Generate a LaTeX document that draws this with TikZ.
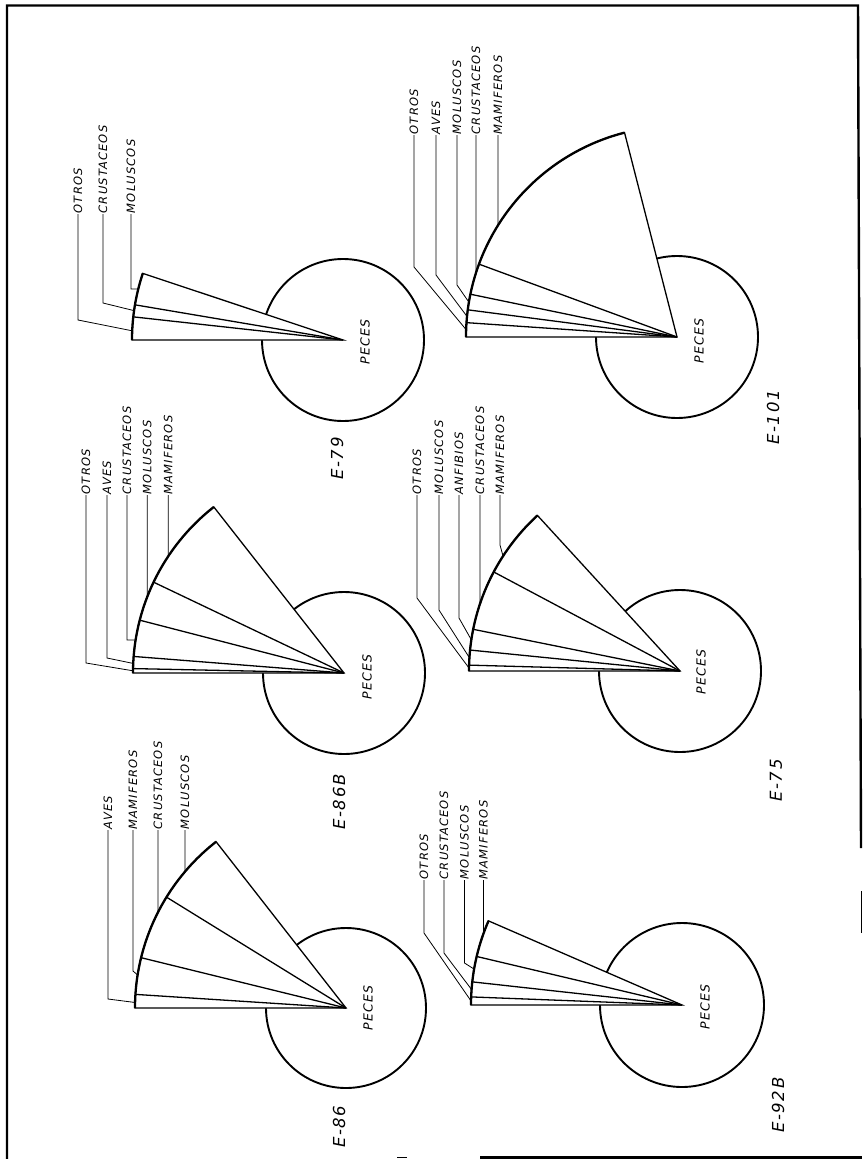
\documentclass[tikz,border=0pt]{standalone}
\usepackage{fontspec}
\newfontfamily\hand{DejaVu Sans}[LetterSpace=10]
\tikzset{
  frame/.style={line width=2.4pt},
  disc/.style={line width=1.9pt},
  spoke/.style={line width=1.3pt},
  rim/.style={line width=2.3pt},
  leader/.style={line width=0.8pt},
  lbl/.style={rotate=90,anchor=west,inner sep=0.6pt,font=\hand\itshape\fontsize{11.5}{12}\selectfont},
  fish/.style={rotate=90,inner sep=0pt,font=\hand\itshape\fontsize{12.5}{13}\selectfont},
  tag/.style={rotate=90,anchor=west,inner sep=0pt,font=\hand\itshape\fontsize{16.5}{17}\selectfont}
}

\begin{document}
\begin{tikzpicture}[x=1pt,y=-1pt]
                \fill[white] (0,0) rectangle (862,1159);
                \useasboundingbox (0,0) rectangle (862,1159);
                % marco
                \draw[frame] (7,1159)--(7,5.5)--(858,5.5)--(861,848);
                \draw[line width=1pt] (861,891)--(861,933);
                \draw[frame] (480,1157.5)--(862,1157.5);
                \draw[line width=1.5pt] (397,1157.5)--(407,1157.5);
                % E-79
                \coordinate (c79) at (343,340);
                \draw[disc] (c79) circle (81);
                \filldraw[spoke,fill=white] (c79)--++(180:211) arc[start angle=180,end angle=198.4,radius=211]--cycle;
                \draw[rim] (c79) ++(180:211) arc[start angle=180,end angle=198.4,radius=211];
                \foreach \a in {6.3,9.6}{
                    \draw[spoke] (c79)--++(180+\a:211);
                }
                \node[fish] (p79) at (365,342) {PECES};
                \node[tag] (e79) at (337,480) {E-79};
                \foreach \x/\k/\a/\t in {78/320/2.5/OTROS,103/303/8/CRUSTACEOS,131/289/14/MOLUSCOS}{
                    \node[lbl] (l79-\t) at (\x,214) {\t};
                    \path (c79) ++(180+\a:211) coordinate (t79-\t);
                    \draw[leader] (l79-\t.west)--(\x,\k)--(t79-\t);
                }
                % E-86B
                \coordinate (c86b) at (344,673);
                \draw[disc] (c86b) circle (81);
                \filldraw[spoke,fill=white] (c86b)--++(180:211) arc[start angle=180,end angle=231.9,radius=211]--cycle;
                \draw[rim] (c86b) ++(180:211) arc[start angle=180,end angle=231.9,radius=211];
                \foreach \a in {1.2,4.5,14.5,25.5}{
                    \draw[spoke] (c86b)--++(180+\a:211);
                }
                \node[fish] (p86b) at (367,677) {PECES};
                \node[tag] (e86b) at (339,830) {E-86B};
                \foreach \x/\k/\a/\t in {86/663/0.6/OTROS,107/658/2.6/AVES,127/640/9/CRUSTACEOS,147.3/596.7/21.2/MOLUSCOS,168.3/556.2/33.6/MAMIFEROS}{
                    \node[lbl] (l86b-\t) at (\x,495) {\t};
                    \path (c86b) ++(180+\a:211) coordinate (t86b-\t);
                    \draw[leader] (l86b-\t.west)--(\x,\k)--(t86b-\t);
                }
                % E-86
                \coordinate (c86) at (346,1008);
                \draw[disc] (c86) circle (80);
                \filldraw[spoke,fill=white] (c86)--++(180:211) arc[start angle=180,end angle=232,radius=211]--cycle;
                \draw[rim] (c86) ++(180:211) arc[start angle=180,end angle=232,radius=211];
                \foreach \a in {3.7,13.8,31.7}{
                    \draw[spoke] (c86)--++(180+\a:211);
                }
                \node[fish] (p86) at (368,1008) {PECES};
                \node[tag] (e86) at (339,1148) {E-86};
                \foreach \x/\k/\a/\t in {108/999/1.5/AVES,133/971/9/MAMIFEROS,158/912.2/27/CRUSTACEOS,185/871.5/40.3/MOLUSCOS}{
                    \node[lbl] (l86-\t) at (\x,830) {\t};
                    \path (c86) ++(180+\a:211) coordinate (t86-\t);
                    \draw[leader] (l86-\t.west)--(\x,\k)--(t86-\t);
                }
                % E-101
                \coordinate (c101) at (677,337);
                \draw[disc] (c101) circle (81);
                \filldraw[spoke,fill=white] (c101)--++(180:211) arc[start angle=180,end angle=255.6,radius=211]--cycle;
                \draw[rim] (c101) ++(180:211) arc[start angle=180,end angle=255.6,radius=211];
                \foreach \a in {3.9,7.4,11.7,20.2}{
                    \draw[spoke] (c101)--++(180+\a:211);
                }
                \node[fish] (p101) at (699,341) {PECES};
                \node[tag] (e101) at (773,445) {E-101};
                \foreach \x/\k/\a/\t in {414/267/2/OTROS,436/275/5.6/AVES,457/285/9.5/MOLUSCOS,476/272.9/17.7/CRUSTACEOS,498/225.2/32/MAMIFEROS}{
                    \node[lbl] (l101-\t) at (\x,135) {\t};
                    \path (c101) ++(180+\a:211) coordinate (t101-\t);
                    \draw[leader] (l101-\t.west)--(\x,\k)--(t101-\t);
                }
                % E-75
                \coordinate (c75) at (680,671);
                \draw[disc] (c75) circle (81);
                \filldraw[spoke,fill=white] (c75)--++(180:211) arc[start angle=180,end angle=227.5,radius=211]--cycle;
                \draw[rim] (c75) ++(180:211) arc[start angle=180,end angle=227.5,radius=211];
                \foreach \a in {1.6,5.7,11.4,28}{
                    \draw[spoke] (c75)--++(180+\a:211);
                }
                \node[fish] (p75) at (701,672) {PECES};
                \node[tag] (e75) at (776,802) {E-75};
                \foreach \x/\k/\a/\t in {417/598/0.8/OTROS,439/610/3.6/MOLUSCOS,459/618/8.5/ANFIBIOS,480/603.7/18.6/CRUSTACEOS,500/545/33/MAMIFEROS}{
                    \node[lbl] (l75-\t) at (\x,495) {\t};
                    \path (c75) ++(180+\a:211) coordinate (t75-\t);
                    \draw[leader] (l75-\t.west)--(\x,\k)--(t75-\t);
                }
                % E-92B
                \coordinate (c92b) at (682,1005);
                \draw[disc] (c92b) circle (82);
                \filldraw[spoke,fill=white] (c92b)--++(180:211) arc[start angle=180,end angle=203.5,radius=211]--cycle;
                \draw[rim] (c92b) ++(180:211) arc[start angle=180,end angle=203.5,radius=211];
                \foreach \a in {2.2,6.3,13.3}{
                    \draw[spoke] (c92b)--++(180+\a:211);
                }
                \node[fish] (p92b) at (705,1007) {PECES};
                \node[tag] (e92b) at (778,1133) {E-92B};
                \foreach \x/\k/\a/\t in {424/933/1.1/OTROS,444/953/4.2/CRUSTACEOS,464.5/963/9.8/MOLUSCOS,483.4/933.9/19.7/MAMIFEROS}{
                    \node[lbl] (l92b-\t) at (\x,880) {\t};
                    \path (c92b) ++(180+\a:211) coordinate (t92b-\t);
                    \draw[leader] (l92b-\t.west)--(\x,\k)--(t92b-\t);
                }
\end{tikzpicture}
\end{document}
